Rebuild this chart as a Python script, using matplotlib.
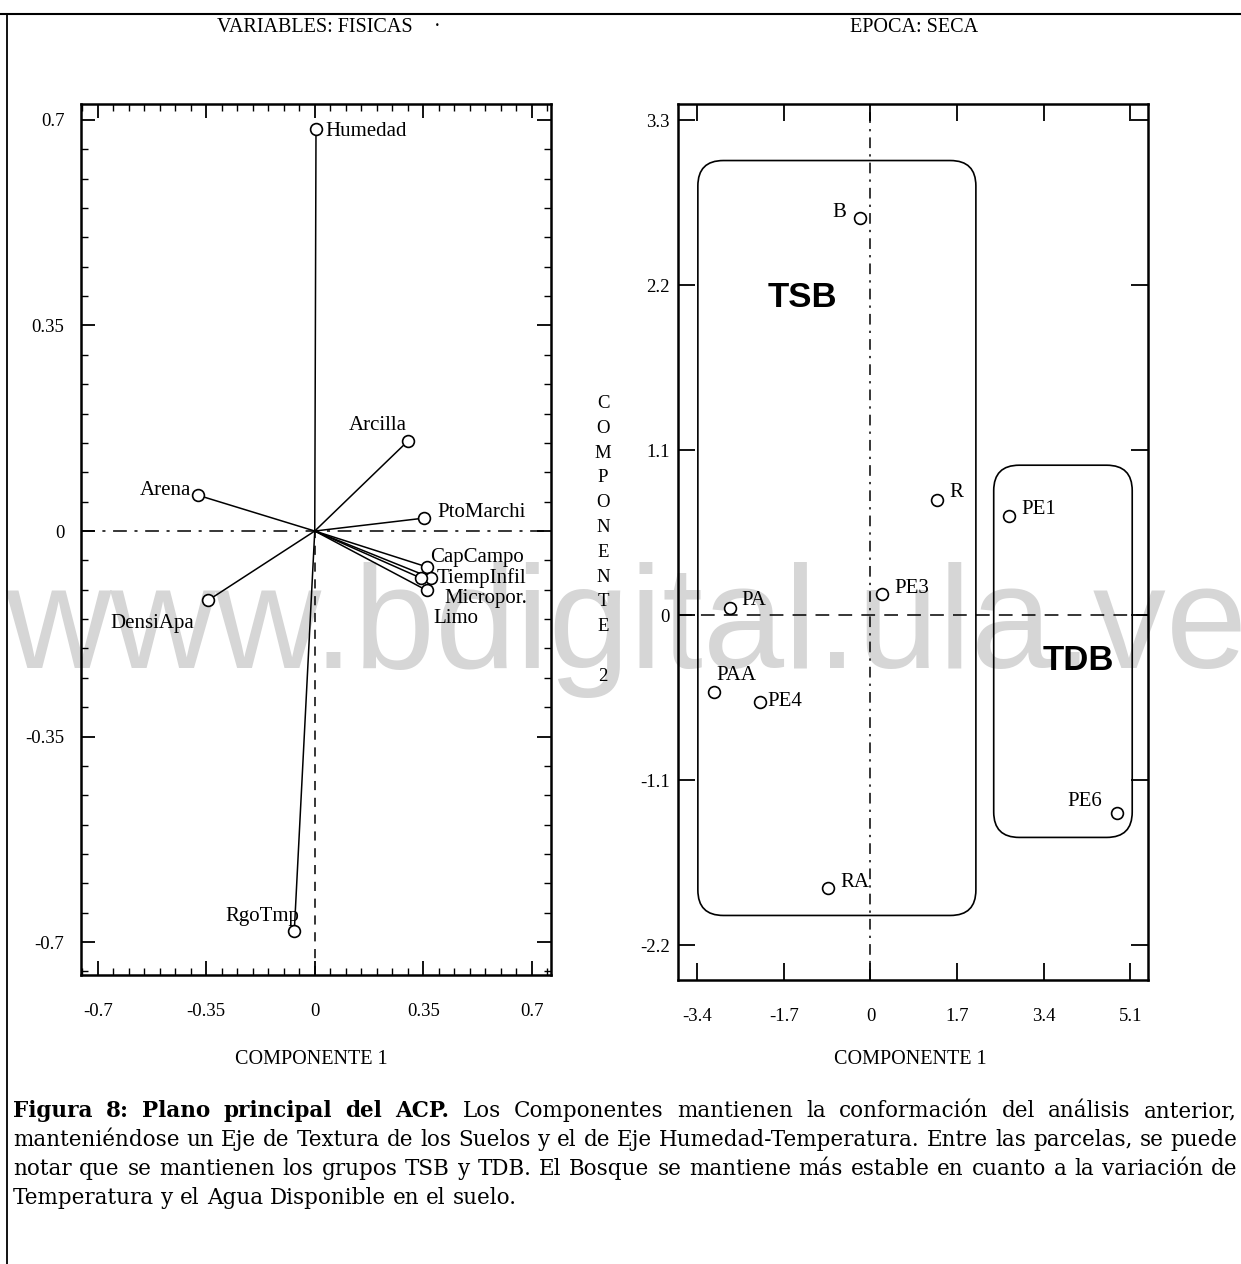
import numpy as np
import matplotlib
matplotlib.use("Agg")
import matplotlib.pyplot as plt
from matplotlib.patches import FancyBboxPatch
from matplotlib.lines import Line2D
from matplotlib.ticker import MultipleLocator, FixedLocator

plt.rcParams["font.family"] = ["Liberation Serif", "DejaVu Serif"]

# left panel: loadings of the physical variables
var_names = ["Humedad", "Arcilla", "PtoMarchi", "CapCampo", "TiempInfil",
             "Micropor.", "Limo", "Arena", "DensiApa", "RgoTmp"]
var_c1 = [0.004, 0.300, 0.353, 0.361, 0.376, 0.361, 0.342, -0.377, -0.344, -0.066]
var_c2 = [0.685, 0.153, 0.022, -0.061, -0.080, -0.101, -0.080, 0.061, -0.118, -0.681]

# right panel: plot scores
plot_names = ["B", "R", "PE1", "PE3", "PA", "PAA", "PE4", "PE6", "RA"]
plot_c1 = [-0.20, 1.30, 2.72, 0.22, -2.76, -3.08, -2.17, 4.84, -0.83]
plot_c2 = [2.65, 0.77, 0.66, 0.14, 0.05, -0.51, -0.58, -1.32, -1.82]

left_ticks = [-0.7, -0.35, 0, 0.35, 0.7]
left_ticklabels = ["-0.7", "-0.35", "0", "0.35", "0.7"]
right_xticks = [-3.4, -1.7, 0, 1.7, 3.4, 5.1]
right_xticklabels = ["-3.4", "-1.7", "0", "1.7", "3.4", "5.1"]
right_yticks = [-2.2, -1.1, 0, 1.1, 2.2, 3.3]
right_yticklabels = ["-2.2", "-1.1", "0", "1.1", "2.2", "3.3"]

# label offsets in pixels (dx, dy, ha)
var_offsets = [(9, -3, "left"), (-1, 16, "right"), (13, 6, "left"), (3, 9, "left"),
               (5, 0, "left"), (18, -8, "left"), (13, -40, "left"), (-7, 5, "right"),
               (-14, -23, "right"), (5, 14, "right")]
plot_offsets = [(-14, 5, "right"), (13, 7, "left"), (12, 7, "left"), (13, 6, "left"),
                (11, 7, "left"), (3, 16, "left"), (7, 1, "left"), (-15, 12, "right"),
                (12, 6, "left")]

W, H = 1241, 1264
fig = plt.figure(figsize=(W / 100, H / 100), dpi=100)

# watermark behind everything
fig.text(5 / W, 1 - 668 / H, "www.bdigital.ula.ve", fontsize=105, color="#d6d6d6",
         family="Liberation Sans", ha="left", va="baseline", zorder=-5)


def style_axes(ax, tick_len, minor_len=None):
    for s in ax.spines.values():
        s.set_linewidth(1.8)
    ax.tick_params(which="major", direction="in", length=tick_len, width=1.3,
                   top=True, right=True, labelsize=13.5)
    if minor_len:
        ax.tick_params(which="minor", direction="in", length=minor_len, width=1.0,
                       top=True, right=True)
    ax.set_facecolor("none")


# ---- left panel ----
ax1 = fig.add_axes([81 / W, 1 - 975 / H, 470 / W, 871.5 / H])
ax1.set_xlim(-0.754, 0.762)
ax1.set_ylim(-0.756, 0.728)
ax1.xaxis.set_major_locator(FixedLocator(left_ticks))
ax1.yaxis.set_major_locator(FixedLocator(left_ticks))
ax1.set_xticklabels(left_ticklabels)
ax1.set_yticklabels(left_ticklabels)
ax1.xaxis.set_minor_locator(MultipleLocator(0.05))
ax1.yaxis.set_minor_locator(MultipleLocator(0.05))
style_axes(ax1, 10, 5)
ax1.tick_params(axis="x", pad=20)
ax1.tick_params(axis="y", pad=12)

ax1.axhline(0, color="black", lw=1.1, ls=(0, (9, 5, 2, 5)))
ax1.plot([0, 0], [-0.756, 0], color="black", lw=1.1, ls=(0, (6, 5)))
for x, y in zip(var_c1, var_c2):
    ax1.plot([0, x], [0, y], color="black", lw=1.1)
ax1.plot(var_c1, var_c2, "o", mfc="white", mec="black", ms=8.5, mew=1.2, zorder=5)
for name, x, y, (dx, dy, ha) in zip(var_names, var_c1, var_c2, var_offsets):
    ax1.annotate(name, (x, y), xytext=(dx * 0.72, dy * 0.72), textcoords="offset points",
                 ha=ha, va="center", fontsize=15)

# ---- right panel ----
ax2 = fig.add_axes([678 / W, 1 - 980 / H, 470 / W, 876.5 / H])
ax2.set_xlim(-3.78, 5.45)
ax2.set_ylim(-2.43, 3.41)
ax2.xaxis.set_major_locator(FixedLocator(right_xticks))
ax2.yaxis.set_major_locator(FixedLocator(right_yticks))
ax2.set_xticklabels(right_xticklabels)
ax2.set_yticklabels(right_yticklabels)
style_axes(ax2, 12)
ax2.tick_params(axis="x", pad=20)
ax2.tick_params(axis="y", pad=6)

ax2.axhline(0, color="black", lw=1.1, ls=(0, (9, 6)))
ax2.axvline(0, color="black", lw=1.1, ls=(0, (7, 4, 1.5, 4)))

aspect = 50.8 / 150.2
for (x0, x1, y0, y1) in [(-3.39, 2.07, -2.0, 3.03), (2.42, 5.14, -1.48, 1.0)]:
    box = FancyBboxPatch((x0, y0), x1 - x0, y1 - y0,
                         boxstyle="round,pad=0,rounding_size=0.5",
                         mutation_aspect=aspect, fc="none", ec="black", lw=1.2)
    ax2.add_patch(box)
ax2.text(-1.34, 2.12, "TSB", family="Liberation Sans", weight="bold", fontsize=25,
         ha="center", va="center")
ax2.text(4.09, -0.30, "TDB", family="Liberation Sans", weight="bold", fontsize=25,
         ha="center", va="center")

ax2.plot(plot_c1, plot_c2, "o", mfc="white", mec="black", ms=8.5, mew=1.2, zorder=5)
for name, x, y, (dx, dy, ha) in zip(plot_names, plot_c1, plot_c2, plot_offsets):
    ax2.annotate(name, (x, y), xytext=(dx * 0.72, dy * 0.72), textcoords="offset points",
                 ha=ha, va="center", fontsize=15)

# titles and axis names
fig.text(315 / W, 1 - 28 / H, "VARIABLES: FISICAS", fontsize=14.5, ha="center", va="center")
fig.text(437 / W, 1 - 28 / H, "·", fontsize=14.5, ha="center", va="center")
fig.text(914 / W, 1 - 28 / H, "EPOCA: SECA", fontsize=14.5, ha="center", va="center")
fig.text(311 / W, 1 - 1059 / H, "COMPONENTE 1", fontsize=14.5, ha="center", va="center")
fig.text(910 / W, 1 - 1060 / H, "COMPONENTE 1", fontsize=14.5, ha="center", va="center")
fig.text(603 / W, 1 - 395 / H, "\n".join("COMPONENTE") + "\n\n2", fontsize=13.5,
         ha="center", va="top", linespacing=1.6)

# page frame: top rule and left rule
fig.add_artist(Line2D([0, 1], [1 - 14 / H, 1 - 14 / H], color="black", lw=1.5))
fig.add_artist(Line2D([7 / W, 7 / W], [1 - 14 / H, 0], color="black", lw=1.3))

# caption, justified
caption = [
    ([("Figura 8: Plano principal del ACP.", "bold"),
      ("Los Componentes mantienen la conformación del análisis anterior,", "normal")], True),
    ([("manteniéndose un Eje de Textura de los Suelos y el de Eje Humedad-Temperatura. "
       "Entre las parcelas, se puede", "normal")], True),
    ([("notar que se mantienen los grupos TSB y TDB. El Bosque se mantiene más estable "
       "en cuanto a la variación de", "normal")], True),
    ([("Temperatura y  el Agua Disponible en el suelo.", "normal")], False),
]
renderer = fig.canvas.get_renderer()
x_left, x_right = 13, 1237
cap_size = 15.5
for i, (parts, justify) in enumerate(caption):
    y = 1 - (1111 + 29 * i) / H
    words = []
    for txt, wt in parts:
        words += [(w, wt) for w in txt.split()]
    arts = [fig.text(0, y, w, fontsize=cap_size, family="DejaVu Serif", weight=wt,
                     va="center", ha="left") for w, wt in words]
    widths = [a.get_window_extent(renderer).width for a in arts]
    space = 0.32 * cap_size * 100 / 72
    if justify:
        space = (x_right - x_left - sum(widths)) / (len(words) - 1)
    x = x_left
    for a, w in zip(arts, widths):
        a.set_x(x / W)
        x += w + space

fig.savefig("out.png", dpi=100)
